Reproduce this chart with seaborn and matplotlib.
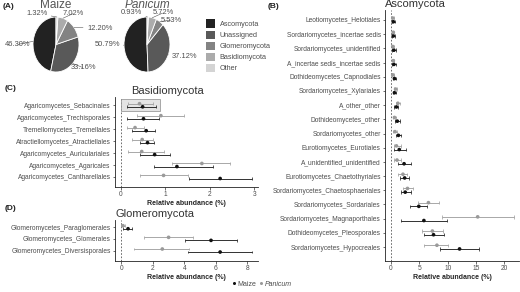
import numpy as np
import pandas as pd
import matplotlib
matplotlib.use('Agg')
import matplotlib.pyplot as plt
from matplotlib.patches import Patch, Rectangle
from matplotlib.lines import Line2D
import seaborn as sns

# ---------------- data ----------------
phyla = ['Ascomycota', 'Unassigned', 'Glomeromycota', 'Basidiomycota', 'Other']
maize_pct = [46.30, 33.16, 12.20, 7.02, 1.32]
panicum_pct = [50.79, 37.12, 5.53, 5.72, 0.93]

asco_orders = ['Leotiomycetes_Helotiales', 'Sordariomycetes_incertae sedis',
               'Sordariomycetes_unidentified', 'A_incertae sedis_incertae sedis',
               'Dothideomycetes_Capnodiales', 'Sordariomycetes_Xylariales',
               'A_other_other', 'Dothideomycetes_other', 'Sordariomycetes_other',
               'Eurotiomycetes_Eurotiales', 'A_unidentified_unidentified',
               'Eurotiomycetes_Chaetothyriales', 'Sordariomycetes_Chaetosphaeriales',
               'Sordariomycetes_Sordariales', 'Sordariomycetes_Magnaporthales',
               'Dothideomycetes_Pleosporales', 'Sordariomycetes_Hypocreales']
asco_maize = [0.4, 0.4, 0.5, 0.5, 0.6, 0.6, 0.95, 1.1, 1.3, 1.45, 2.3, 2.4, 2.5, 4.9, 5.8, 7.5, 12.1]
asco_maize_lo = [0.15, 0.15, 0.2, 0.2, 0.3, 0.3, 0.6, 0.7, 0.8, 0.5, 1.3, 1.6, 1.7, 3.3, 1.8, 5.8, 8.6]
asco_maize_hi = [0.7, 0.7, 0.8, 0.8, 0.9, 0.9, 1.3, 1.5, 1.8, 2.6, 3.5, 3.1, 3.5, 6.4, 9.9, 9.4, 15.6]
asco_pan = [0.3, 0.4, 0.3, 0.4, 0.3, 0.8, 1.2, 0.6, 0.7, 0.95, 1.05, 2.1, 2.9, 6.6, 15.3, 7.3, 8.1]
asco_pan_lo = [0.1, 0.15, 0.1, 0.15, 0.1, 0.5, 0.9, 0.3, 0.4, 0.55, 0.6, 1.3, 2.1, 4.8, 9.0, 5.5, 5.9]
asco_pan_hi = [0.5, 0.6, 0.5, 0.6, 0.5, 1.1, 1.6, 0.9, 1.1, 1.7, 1.8, 2.9, 3.8, 8.5, 21.8, 9.2, 10.0]

basid_orders = ['Agaricomycetes_Sebacinales', 'Agaricomycetes_Trechisporales',
                'Tremellomycetes_Tremellales', 'Atractiellomycetes_Atractiellales',
                'Agaricomycetes_Auriculariales', 'Agaricomycetes_Agaricales',
                'Agaricomycetes_Cantharellales']
basid_maize = [0.49, 0.51, 0.57, 0.60, 0.76, 1.26, 2.23]
basid_maize_lo = [0.15, 0.14, 0.25, 0.42, 0.42, 0.75, 1.52]
basid_maize_hi = [0.78, 0.85, 0.77, 0.75, 1.11, 2.07, 2.94]
basid_pan = [0.42, 0.90, 0.32, 0.48, 0.47, 1.82, 0.96]
basid_pan_lo = [0.17, 0.36, 0.13, 0.25, 0.17, 1.15, 0.43]
basid_pan_hi = [0.73, 1.41, 0.51, 0.72, 0.96, 2.46, 1.50]

glom_orders = ['Glomeromycetes_Paraglomerales', 'Glomeromycetes_Glomerales',
               'Glomeromycetes_Diversisporales']
glom_maize = [0.42, 5.7, 6.28]
glom_maize_lo = [0.1, 4.07, 4.25]
glom_maize_hi = [0.7, 7.38, 8.28]
glom_pan = [0.1, 3.0, 2.6]
glom_pan_lo = [0.0, 1.43, 0.8]
glom_pan_hi = [0.2, 4.55, 4.3]

# ---------------- style ----------------
sns.set_style('ticks')
plt.rcParams['font.family'] = ['Liberation Sans', 'DejaVu Sans']
pie_cols = ['#222222', '#595959', '#838383', '#ababab', '#d4d4d4']
host_cols = {'Maize': '#111111', 'Panicum': '#9a9a9a'}
txt_grey = '#4d4d4d'

W, H = 520, 292
fig = plt.figure(figsize=(W / 100, H / 100), dpi=100)


def box(x0, y0, x1, y1):
    # pixel box -> figure fraction
    return [x0 / W, 1 - y1 / H, (x1 - x0) / W, (y1 - y0) / H]


# ---------------- (A) pies ----------------
def pie(cx, cy, rx, ry, vals, title, italic, labpos):
    ax = fig.add_axes(box(cx - rx, cy - ry, cx + rx, cy + ry))
    ax.pie(vals, colors=pie_cols, startangle=90, counterclock=True,
           wedgeprops=dict(edgecolor='white', linewidth=0.6))
    ax.set_aspect('auto')
    ax.set_xlim(-1, 1)
    ax.set_ylim(-1, 1)
    ang0 = 90.0
    for v, (tx, ty, ha) in zip(vals, labpos):
        mid = np.deg2rad(ang0 + v * 3.6 / 2)
        ang0 += v * 3.6
        ax.annotate('%.2f%%' % v, xy=(np.cos(mid), np.sin(mid)), xytext=(tx, ty),
                    ha=ha, va='center', fontsize=5.4, color=txt_grey, annotation_clip=False,
                    arrowprops=dict(arrowstyle='-', lw=0.4, color='#555555',
                                    shrinkA=0.5, shrinkB=0))
    ax.text(0, 1.44, title, ha='center', va='center', fontsize=8.5, color='#555555',
            style='italic' if italic else 'normal')
    return ax


pie(56, 44.5, 23, 27.5, maize_pct, 'Maize', False,
    [(-1.13, 0.0, 'right'), (0.62, -0.84, 'left'), (1.35, 0.6, 'left'),
     (0.3, 1.13, 'left'), (-0.38, 1.13, 'right')])
pie(147, 44.5, 23, 27.5, panicum_pct, 'Panicum', True,
    [(-1.17, 0.0, 'right'), (1.09, -0.45, 'left'), (0.6, 0.89, 'left'),
     (0.24, 1.15, 'left'), (-0.22, 1.15, 'right')])

fig.legend(handles=[Patch(facecolor=c, edgecolor='none') for c in pie_cols], labels=phyla,
           loc='upper left', bbox_to_anchor=(199 / W, 1 - 13 / H), frameon=False,
           fontsize=5.2, handlelength=1.35, handleheight=1.35, labelspacing=0.36,
           handletextpad=0.6, labelcolor=txt_grey)


# ---------------- dot + range panels ----------------
def ranges(rect, orders, m, mlo, mhi, p, plo, phi, xlim, ylim, ticks, title, tx=0.0):
    ax = fig.add_axes(box(*rect))
    n = len(orders)
    df = pd.DataFrame({
        'pos': np.r_[np.arange(n) + 0.13, np.arange(n) - 0.13],
        'mean': np.r_[m, p], 'lo': np.r_[mlo, plo], 'hi': np.r_[mhi, phi],
        'host': ['Maize'] * n + ['Panicum'] * n})
    ax.axvline(0, color='#555555', lw=0.6, ls=(0, (2, 2)), zorder=0)
    for host, g in df.groupby('host'):
        c = host_cols[host]
        ax.hlines(g['pos'], g['lo'], g['hi'], color=c, lw=0.6, zorder=2)
        for end in ('lo', 'hi'):
            ax.vlines(g[end], g['pos'] - 0.12, g['pos'] + 0.12, color=c, lw=0.5, zorder=2)
    sns.scatterplot(data=df, x='mean', y='pos', hue='host', palette=host_cols,
                    s=7, linewidth=0, legend=False, ax=ax, zorder=3)
    ax.set_yticks(np.arange(n))
    ax.set_yticklabels(orders)
    ax.set_xticks(ticks)
    ax.set_xlim(*xlim)
    ax.set_ylim(*ylim)
    ax.set_ylabel('')
    ax.set_xlabel('Relative abundance (%)', fontsize=5, fontweight='bold', labelpad=1.2)
    ax.tick_params(axis='both', labelsize=4.8, labelcolor=txt_grey, length=1.8,
                   width=0.5, pad=1.2, color='#333333')
    for s in ('top', 'right'):
        ax.spines[s].set_visible(False)
    for s in ('left', 'bottom'):
        ax.spines[s].set_linewidth(0.6)
        ax.spines[s].set_color('#222222')
    t = ax.set_title(title, loc='left', fontsize=8, color='#333333', pad=2)
    t.set_x(tx)
    return ax


axB = ranges((385, 10, 519, 261), asco_orders, asco_maize, asco_maize_lo, asco_maize_hi,
             asco_pan, asco_pan_lo, asco_pan_hi, (-1.07, 22.6), (16.98, -0.7),
             [0, 5, 10, 15, 20], 'Ascomycota')
axC = ranges((115, 97, 258, 187), basid_orders, basid_maize, basid_maize_lo, basid_maize_hi,
             basid_pan, basid_pan_lo, basid_pan_hi, (-0.13, 3.08), (6.84, -0.69),
             [0, 1, 2, 3], 'Basidiomycota', tx=0.11)
axC.add_patch(Rectangle((0.0, -0.5), 0.87, 1.0, facecolor='#e4e4e4', edgecolor='#8a8a8a',
                        lw=0.5, zorder=1))
axD = ranges((115, 220, 258, 261), glom_orders, glom_maize, glom_maize_lo, glom_maize_hi,
             glom_pan, glom_pan_lo, glom_pan_hi, (-0.41, 8.69), (2.9, -0.62),
             [0, 2, 4, 6, 8], 'Glomeromycota')

# bottom host legend
hnd = [Line2D([], [], marker='o', ls='', ms=2.2, color=host_cols[h], mec='none')
       for h in ('Maize', 'Panicum')]
leg = fig.legend(hnd, ['Maize', 'Panicum'], loc='center', bbox_to_anchor=(262 / W, 1 - 284 / H),
                 ncol=2, frameon=False, fontsize=5, handlelength=0.6, handletextpad=0.2,
                 columnspacing=0.4, labelcolor=txt_grey)
leg.get_texts()[1].set_style('italic')

# panel letters
for lab, x, y in [('(A)', 3, 6), ('(B)', 268, 6), ('(C)', 5, 88), ('(D)', 5, 209)]:
    fig.text(x / W, 1 - y / H, lab, fontsize=6, fontweight='bold', va='center', color='#222222')

fig.savefig('out.png', dpi=100)
